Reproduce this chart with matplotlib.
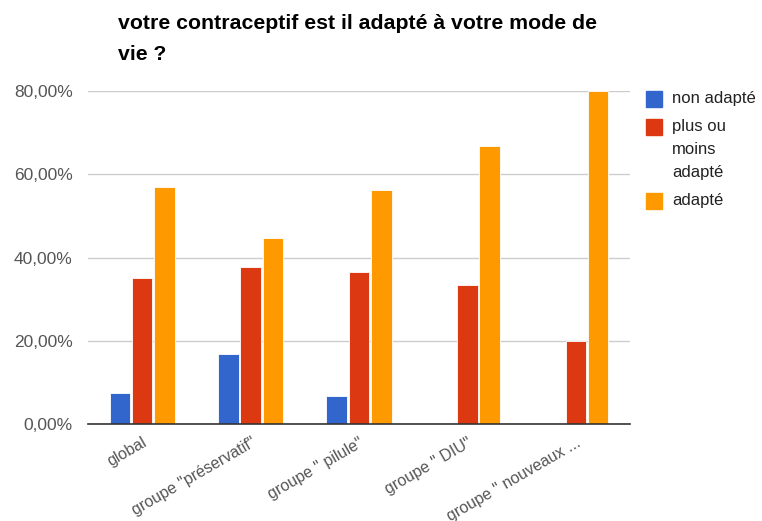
import matplotlib
matplotlib.use('Agg')
import matplotlib.pyplot as plt
from matplotlib.patches import Rectangle
import numpy as np

plt.rcParams['font.family'] = ['Liberation Sans', 'DejaVu Sans']

# data
categories = ['global', 'groupe "préservatif"', 'groupe " pilule"', 'groupe " DIU"', 'groupe " nouveaux ...']
series_names = ['non adapté', 'plus ou\nmoins\nadapté', 'adapté']
non_adapte = [7.5, 16.9, 6.8, 0, 0]
plus_ou_moins = [35.1, 37.6, 36.4, 33.3, 20.0]
adapte = [57.0, 44.7, 56.3, 66.7, 80.0]
colors = ['#3366cc', '#dc3912', '#ff9900']
yticks = [0, 20, 40, 60, 80]

fig = plt.figure(figsize=(7.62, 5.21), dpi=100)
ax = fig.add_axes([88/762, 1 - 424/521, (630 - 88)/762, (424 - 91)/521])

x = np.arange(len(categories))
w = 0.19
for i, vals in enumerate([non_adapte, plus_ou_moins, adapte]):
    ax.bar(x + (i - 1) * (w + 0.015), vals, width=w, color=colors[i],
           edgecolor='white', linewidth=0.6, zorder=3)

ax.set_xlim(-0.5, len(categories) - 0.5)
ax.set_ylim(0, 80)
ax.set_yticks(yticks)
ax.set_yticklabels(['%d,00%%' % v for v in yticks])
ax.yaxis.grid(True, color='#cccccc', linewidth=1, zorder=0)
for s in ['top', 'right', 'left']:
    ax.spines[s].set_visible(False)
ax.spines['bottom'].set_color('#333333')
ax.spines['bottom'].set_linewidth(1.2)
ax.spines['bottom'].set_zorder(4)
ax.tick_params(axis='both', length=0, colors='#555555')
ax.tick_params(axis='y', pad=11, labelsize=12.5)
ax.tick_params(axis='x', pad=8, labelsize=11.5)
ax.set_xticks(x)
ax.set_xticklabels(categories, rotation=30, ha='right', rotation_mode='anchor')

fig.text(118/762, 1 - 39/521, 'votre contraceptif est il adapté à votre mode de\nvie ?',
         fontsize=15.3, fontweight='bold', va='center', ha='left', linespacing=1.85)

# legend drawn by hand so the swatch sits on the first line
leg_y = [99, 127, 201]
for i, name in enumerate(series_names):
    yy = leg_y[i]
    fig.patches.append(Rectangle((646/762, 1 - (yy + 8)/521), 16/762, 16/521,
                                 transform=fig.transFigure, color=colors[i]))
    fig.text(672/762, 1 - (yy - 8)/521, name, fontsize=12, color='#222222',
             va='top', ha='left', linespacing=1.65)

fig.savefig('out.png', dpi=100)
